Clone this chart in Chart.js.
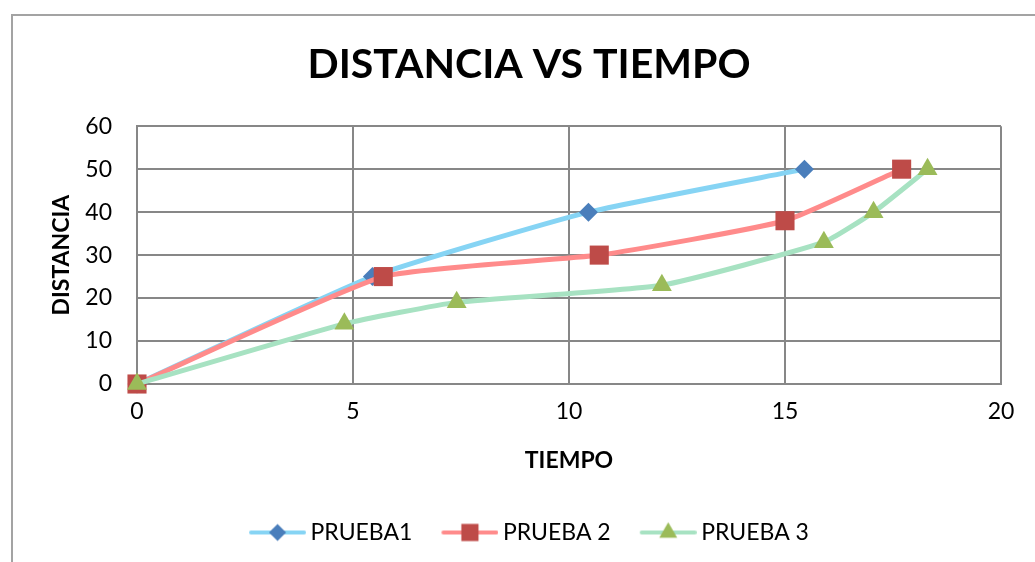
<!DOCTYPE html>
<html>
<head>
<meta charset="utf-8">
<script src="https://cdn.jsdelivr.net/npm/chart.js@4.4.1/dist/chart.umd.min.js"></script>
<style>
  html, body { margin: 0; padding: 0; background: #fff; overflow: hidden; }
  #frame { position: absolute; left: 11px; top: 14px; width: 1100px; height: 600px; border: 2px solid #a3a3a3; }
  #wrap { position: absolute; left: 0; top: 0; width: 1035px; height: 562px; }
</style>
</head>
<body>
<div id="frame"></div>
<div id="wrap"><canvas id="myChart" width="1035" height="562"></canvas></div>
<script>
// tiempo / distancia for each run
const seriesNames = ['PRUEBA1', 'PRUEBA 2', 'PRUEBA 3'];

const tiempo1 = [0, 5.45, 10.45, 15.45];
const distancia1 = [0, 25, 40, 50];

const tiempo2 = [0, 5.7, 10.7, 15.0, 17.7];
const distancia2 = [0, 25, 30, 38, 50];

const tiempo3 = [0, 4.8, 7.4, 12.15, 15.9, 17.05, 18.3];
const distancia3 = [0, 14, 19, 23, 33, 40, 50];

const xTicks = [0, 5, 10, 15, 20];
const yTicks = [0, 10, 20, 30, 40, 50, 60];

const lineColors = ['#86D4F4', '#FF8B8B', '#A7E2C2'];
const markerColors = ['#4A7EBB', '#BE4B48', '#9BBB59'];
const markerStyles = ['rectRot', 'rect', 'triangle'];
const markerSizes = [9.5, 13.5, 11.5];

const gridGray = '#878787';
const ctx = document.getElementById('myChart').getContext('2d');

const toPoints = (xs, ys) => xs.map((x, i) => ({ x: x, y: ys[i] }));

// legend swatch: short line with the marker on top
function legendIcon(i) {
  const c = document.createElement('canvas');
  c.width = 64;
  c.height = 26;
  const g = c.getContext('2d');
  g.strokeStyle = lineColors[i];
  g.lineWidth = 4;
  g.lineCap = 'round';
  g.beginPath();
  g.moveTo(9, 13);
  g.lineTo(62, 13);
  g.stroke();
  g.fillStyle = markerColors[i];
  Chart.helpers.drawPoint(g, {
    pointStyle: markerStyles[i],
    radius: markerSizes[i] * 0.9,
    rotation: 0,
    borderWidth: 0
  }, 35.5, 13);
  return c;
}

const series = [toPoints(tiempo1, distancia1), toPoints(tiempo2, distancia2), toPoints(tiempo3, distancia3)];

const datasets = series.map((pts, i) => ({
  label: seriesNames[i],
  data: pts,
  borderColor: lineColors[i],
  backgroundColor: markerColors[i],
  pointBackgroundColor: markerColors[i],
  pointBorderWidth: 0,
  pointStyle: markerStyles[i],
  pointRadius: markerSizes[i],
  pointHoverRadius: markerSizes[i],
  borderWidth: 5,
  tension: 0.15,
  clip: false,
  order: 3 - i
}));

const tickFont = { family: 'Lato', size: 23 };
const titleFont = { family: 'Lato', size: 23, weight: 'bold' };

let myLineChart = new Chart(ctx, {
  type: 'line',
  data: { datasets: datasets },
  options: {
    responsive: false,
    animation: false,
    layout: { padding: { left: 57, right: 34, top: 0, bottom: 8 } },
    plugins: {
      title: {
        display: true,
        text: 'DISTANCIA VS TIEMPO',
        color: '#000',
        font: { family: 'Lato', size: 41, weight: 'bold' },
        padding: { top: 40, bottom: 37 }
      },
      legend: {
        position: 'bottom',
        labels: {
          usePointStyle: true,
          pointStyleWidth: 50,
          padding: 29,
          color: '#000',
          font: tickFont,
          generateLabels: () => seriesNames.map((name, i) => ({
            text: name,
            pointStyle: legendIcon(i),
            fillStyle: markerColors[i],
            strokeStyle: lineColors[i],
            lineWidth: 0,
            hidden: false,
            datasetIndex: i,
            fontColor: '#000'
          }))
        }
      },
      tooltip: { enabled: false }
    },
    scales: {
      x: {
        type: 'linear',
        min: 0,
        max: 20,
        afterBuildTicks: s => { s.ticks = xTicks.map(v => ({ value: v })); },
        afterFit: s => { s.height = 108; },
        grid: { color: gridGray, lineWidth: 2, drawTicks: false },
        border: { color: gridGray, width: 2 },
        ticks: { color: '#000', font: tickFont, padding: 14, maxRotation: 0 },
        title: { display: true, text: 'TIEMPO', color: '#000', font: titleFont, padding: { top: 0, bottom: 18 } }
      },
      y: {
        min: 0,
        max: 60,
        afterBuildTicks: s => { s.ticks = yTicks.map(v => ({ value: v })); },
        afterFit: s => { s.width = 80; },
        grid: { color: gridGray, lineWidth: 2, drawTicks: false },
        border: { color: gridGray, width: 2 },
        ticks: { color: '#000', font: tickFont, padding: 25 },
        title: { display: true, text: 'DISTANCIA', color: '#000', font: titleFont, padding: { top: -9, bottom: 0 } }
      }
    }
  }
});
</script>
</body>
</html>
